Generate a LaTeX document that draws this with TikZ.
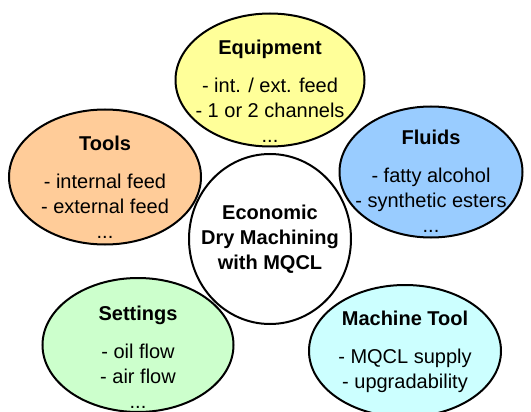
\documentclass[tikz,border=0pt]{standalone}
\usepackage{fontspec}
\setmainfont{Liberation Sans}
\usepackage{xcolor}
\usetikzlibrary{shapes.geometric,positioning}
\definecolor{equipfill}{RGB}{255,255,153}
\definecolor{toolsfill}{RGB}{255,204,153}
\definecolor{fluidsfill}{RGB}{153,204,255}
\definecolor{settingsfill}{RGB}{204,255,204}
\definecolor{machinefill}{RGB}{204,255,255}

\begin{document}
\begin{tikzpicture}[
    x=1pt, y=-1pt,
    bubble/.style={ellipse, draw=black, line width=2pt, inner sep=0pt},
    bubtext/.style={align=center, inner sep=0pt, font=\fontsize{20}{25}\selectfont}
]
    \path[use as bounding box, fill=white] (0,0) rectangle (531,412);

    % Outer bubbles
    \node[bubble, fill=equipfill, minimum width=189pt, minimum height=133pt] (equip) at (270,80) {};
    \node[bubble, fill=toolsfill, minimum width=192pt, minimum height=135pt] (tools) at (105,177) {};
    \node[bubble, fill=fluidsfill, minimum width=183pt, minimum height=131pt] (fluids) at (431,172) {};
    \node[bubble, fill=settingsfill, minimum width=191pt, minimum height=134pt] (settings) at (138,345) {};
    \node[bubble, fill=machinefill, minimum width=192pt, minimum height=132pt] (machine) at (405,351) {};

    % Centre
    \node[bubble, fill=white, minimum width=162pt, minimum height=170pt] (core) at (270,239) {};

    % Bubble texts
    \node[bubtext] (equiptxt) at ([yshift=-11pt]equip.center) {\textbf{Equipment}\\[13pt] - int. / ext. feed\\ - 1 or 2 channels\\ ...};
    \node[bubtext] (toolstxt) at ([yshift=-10pt]tools.center) {\textbf{Tools}\\[13pt] - internal feed\\ - external feed\\ ...};
    \node[bubtext] (fluidstxt) at ([yshift=-9pt]fluids.center) {\textbf{Fluids}\\[13pt] - fatty alcohol\\ - synthetic esters\\ ...};
    \node[bubtext] (settingstxt) at ([yshift=-12pt]settings.center) {\textbf{Settings}\\[13pt] - oil flow\\ - air flow\\ ...};
    \node[bubtext] (machinetxt) at ([yshift=-1pt]machine.center) {\textbf{Machine Tool}\\[13pt] - MQCL supply\\ - upgradability};
    \node[bubtext, font=\fontsize{20}{25}\selectfont\bfseries] (coretxt) at (core.center) {Economic\\ Dry Machining\\ with MQCL};
\end{tikzpicture}
\end{document}
